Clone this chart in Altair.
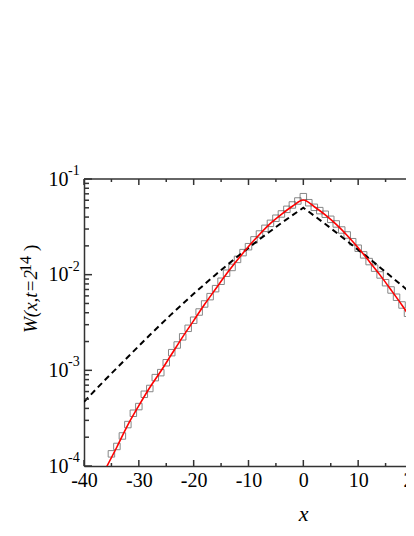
import altair as alt
import pandas as pd

# Simulation data (open squares)
sq_x = list(range(-35, 21))
sq_y = [1.34e-4, 1.60e-4, 2.06e-4, 2.71e-4, 3.56e-4, 4.18e-4, 5.62e-4, 6.46e-4,
        8.39e-4, 9.46e-4, 1.20e-3, 1.53e-3, 1.84e-3, 2.24e-3, 2.75e-3, 3.34e-3,
        4.07e-3, 4.94e-3, 5.89e-3, 7.14e-3, 8.53e-3, 1.035e-2, 1.19e-2, 1.445e-2,
        1.70e-2, 1.96e-2, 2.31e-2, 2.66e-2, 3.05e-2, 3.44e-2, 3.89e-2, 4.31e-2,
        4.82e-2, 5.35e-2, 5.89e-2, 6.53e-2, 5.65e-2, 5.06e-2, 4.67e-2, 4.28e-2,
        3.79e-2, 3.39e-2, 2.93e-2, 2.60e-2, 2.21e-2, 1.89e-2, 1.61e-2, 1.37e-2,
        1.17e-2, 9.93e-3, 8.24e-3, 6.92e-3, 5.81e-3, 4.82e-3, 3.95e-3, 3.31e-3]

# Red fit curve
fit_x = [-36, -34, -32, -30, -28, -26, -24, -22, -20, -18, -16, -14, -12, -10, -8,
         -6, -4, -2, 0, 2, 4, 6, 8, 10, 12, 14, 16, 18, 20]
fit_y = [9.5e-5, 1.58e-4, 2.69e-4, 4.27e-4, 6.61e-4, 9.77e-4, 1.48e-3, 2.24e-3,
         3.31e-3, 4.90e-3, 7.08e-3, 1.02e-2, 1.43e-2, 1.97e-2, 2.63e-2, 3.43e-2,
         4.27e-2, 5.19e-2, 6.03e-2, 5.13e-2, 4.22e-2, 3.35e-2, 2.57e-2, 1.91e-2,
         1.38e-2, 9.89e-3, 6.92e-3, 4.79e-3, 3.24e-3]

# Black dashed curve
dash_x = [-40, -36, -32, -28, -24, -20, -16, -12, -8, -4, 0, 4, 8, 12, 16, 20]
dash_y = [4.68e-4, 8.13e-4, 1.38e-3, 2.34e-3, 3.89e-3, 6.31e-3, 1.0e-2, 1.55e-2,
          2.34e-2, 3.47e-2, 5.01e-2, 3.39e-2, 2.24e-2, 1.48e-2, 9.55e-3, 6.17e-3]

x_major = [-40, -30, -20, -10, 0, 10, 20]
x_minor = [-35, -25, -15, -5, 5, 15]
y_major = [1e-4, 1e-3, 1e-2, 1e-1]
y_exp = ["-4", "-3", "-2", "-1"]
y_minor = [2e-4, 3e-4, 4e-4, 5e-4, 6e-4, 7e-4, 8e-4, 9e-4,
           2e-3, 3e-3, 4e-3, 5e-3, 6e-3, 7e-3, 8e-3, 9e-3,
           2e-2, 3e-2, 4e-2, 5e-2, 6e-2, 7e-2, 8e-2, 9e-2]

y_title_main = "W(x,t=2"
y_title_sup = "14"
y_title_end = ")"
x_title = "x"

W_VIS, W_FULL, H = 322, 329, 287
FONT = "Liberation Serif"
AX = "#333333"

xs = alt.Scale(domain=[-40, 20], range=[0, W_FULL], nice=False, zero=False)
ys = alt.Scale(type="log", domain=[1e-4, 1e-1], nice=False)

x_axis = alt.Axis(values=x_major, labelExpr="'' + datum.value", labelFont=FONT,
                  labelFontSize=20, labelColor="black", ticks=False,
                  labelPadding=4, domainColor=AX, domainWidth=1.5, grid=False,
                  labelFlush=False, labelOverlap=False,
                  title=x_title, titleFont=FONT, titleFontSize=22, titleFontStyle="italic",
                  titleFontWeight="normal", titleColor="black", titleX=219, titleY=54,
                  titleBaseline="alphabetic", titleAlign="center")
y_axis = alt.Axis(values=y_major, labelExpr="'10'", labelFont=FONT, labelFontSize=20,
                  labelColor="black", labelBaseline="middle", ticks=False,
                  labelPadding=16, domainColor=AX, domainWidth=1.5, grid=False,
                  labelFlush=False, labelOverlap=False, title=None)

sq_df = pd.DataFrame({"x": sq_x, "y": sq_y})
fit_df = pd.DataFrame({"x": fit_x, "y": fit_y})
dash_df = pd.DataFrame({"x": dash_x, "y": dash_y})
one = pd.DataFrame({"a": [0]})

X = alt.X("x:Q", scale=xs, axis=x_axis)
Y = alt.Y("y:Q", scale=ys, axis=y_axis)

squares = alt.Chart(sq_df).mark_point(shape="square", filled=False, size=42,
                                      color="#555555", strokeWidth=1).encode(x=X, y=Y)
dashed = alt.Chart(dash_df).mark_line(color="black", strokeDash=[6, 4], strokeWidth=2,
                                      clip=True).encode(x=X, y=Y)
fit = alt.Chart(fit_df).mark_line(color="#ff0000", strokeWidth=1.6, clip=True,
                                  interpolate="monotone").encode(x=X, y=Y)

def xticks(vals, length):
    df = pd.DataFrame({"x": vals})
    bottom = alt.Chart(df).mark_rule(color=AX, strokeWidth=1.5).encode(
        x=X, y=alt.value(H), y2=alt.value(H - length))
    top = alt.Chart(df).mark_rule(color=AX, strokeWidth=1.5).encode(
        x=X, y=alt.value(0), y2=alt.value(length))
    return [bottom, top]

def yticks(vals, length):
    df = pd.DataFrame({"y": vals})
    return [alt.Chart(df).mark_rule(color=AX, strokeWidth=1.5).encode(
        y=Y, x=alt.value(0), x2=alt.value(length))]

top_border = alt.Chart(one).mark_rule(color=AX, strokeWidth=1.5).encode(
    x=alt.value(0), x2=alt.value(W_FULL), y=alt.value(0))

exp_df = pd.DataFrame({"y": y_major, "t": y_exp})
exps = alt.Chart(exp_df).mark_text(font=FONT, fontSize=14, align="left",
                                   baseline="middle", dy=-8, color="black").encode(
    y=Y, x=alt.value(-16), text="t:N")

# rotated y-axis title pieces: W(x,t=2 ^14 )
t_main = alt.Chart(one).mark_text(font=FONT, fontSize=19, fontStyle="italic", angle=270,
                                  align="left", baseline="alphabetic", color="black").encode(
    x=alt.value(-47), y=alt.value(154), text=alt.value(y_title_main))
t_sup = alt.Chart(one).mark_text(font=FONT, fontSize=16, angle=270,
                                 align="left", baseline="alphabetic", color="black").encode(
    x=alt.value(-53), y=alt.value(93), text=alt.value(y_title_sup))
t_end = alt.Chart(one).mark_text(font=FONT, fontSize=19, angle=270,
                                 align="left", baseline="alphabetic", color="black").encode(
    x=alt.value(-47), y=alt.value(72), text=alt.value(y_title_end))

layers = [squares, dashed, fit, top_border, exps, t_main, t_sup, t_end]
layers += xticks(x_major, 6) + xticks(x_minor, 3)
layers += yticks(y_major, 8) + yticks(y_minor, 5)

chart = alt.layer(*layers).properties(
    width=W_VIS, height=H,
    autosize=alt.AutoSizeParams(type="none"),
    padding={"left": 76, "top": 171, "right": 0, "bottom": 62},
).configure_view(stroke=None)

chart.save("out.html", embed_options={"renderer": "svg", "actions": False})
